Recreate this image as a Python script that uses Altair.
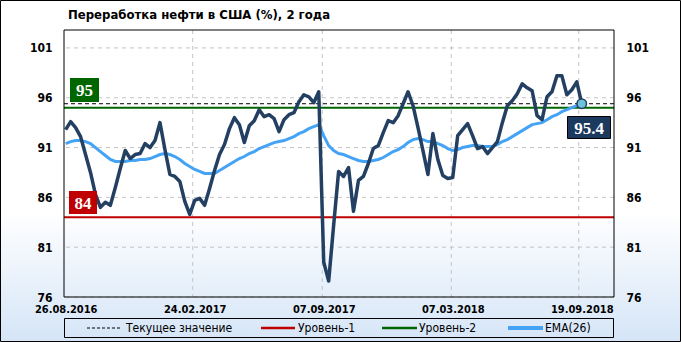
import altair as alt
import pandas as pd

title_text = "Переработка нефти в США (%), 2 года"
x_tick_index = [0, 26, 52, 78, 104]
x_tick_labels = ["26.08.2016", "24.02.2017", "07.09.2017", "07.03.2018", "19.09.2018"]
x_grid_index = [25.6, 51.7, 77.7, 103.4]
y_ticks = [76, 81, 86, 91, 96, 101]

values = [92.8, 93.6, 93.0, 92.1, 90.3, 88.5, 86.3, 85.0, 85.5, 85.2,
          87.0, 88.9, 90.7, 89.9, 90.3, 90.4, 91.4, 91.0, 91.7, 93.5,
          90.8, 88.3, 88.1, 87.6, 85.6, 84.3, 85.7, 85.9, 85.2, 86.9,
          88.7, 90.3, 91.3, 92.9, 94.0, 93.3, 91.5, 93.2, 93.7, 94.8,
          94.1, 94.3, 93.9, 92.6, 93.8, 94.3, 94.5, 95.6, 96.3, 96.1,
          95.5, 96.6, 79.5, 77.6, 83.2, 88.6, 88.1, 89.0, 84.6, 87.7,
          88.1, 89.4, 90.9, 91.2, 92.5, 93.7, 93.5, 94.2, 95.4, 96.6,
          95.2, 93.0, 90.7, 88.3, 92.4, 89.8, 88.2, 87.9, 88.0, 92.2,
          92.8, 93.4, 92.2, 90.9, 91.1, 90.4, 91.0, 91.6, 93.5, 95.2,
          95.7, 96.4, 97.4, 97.0, 96.7, 94.2, 93.8, 96.1, 96.6, 98.2,
          98.2, 96.3, 96.8, 97.6, 95.4]

ema = [91.4, 91.6, 91.7, 91.7, 91.6, 91.4, 91.0, 90.6, 90.2, 89.8,
       89.6, 89.6, 89.6, 89.7, 89.7, 89.8, 89.8, 89.9, 90.1, 90.3,
       90.4, 90.3, 90.1, 89.8, 89.4, 89.1, 88.8, 88.6, 88.4, 88.4,
       88.4, 88.7, 89.0, 89.3, 89.6, 89.9, 90.1, 90.4, 90.6, 90.9,
       91.1, 91.3, 91.5, 91.6, 91.7, 91.9, 92.1, 92.4, 92.6, 92.9,
       93.1, 93.3, 92.2, 91.2, 90.7, 90.4, 90.3, 90.1, 89.9, 89.7,
       89.6, 89.6, 89.7, 89.8, 90.0, 90.3, 90.6, 90.8, 91.1, 91.5,
       91.8, 91.9, 91.8, 91.6, 91.6, 91.4, 91.2, 90.9, 90.7, 90.8,
       91.0, 91.1, 91.2, 91.2, 91.1, 91.1, 91.1, 91.3, 91.6, 91.8,
       92.1, 92.4, 92.7, 93.0, 93.3, 93.4, 93.5, 93.8, 94.1, 94.3,
       94.6, 94.8, 95.0, 95.2, 95.4]

level1 = 84
level2 = 95
current = values[-1]

legend_labels = ["Текущее значение", "Уровень-1", "Уровень-2", "EMA(26)"]

W, H = 550, 267
FONT = "DejaVu Sans Condensed"
SERIF = "Liberation Serif"
NAVY = "#233f62"
BLUE = "#45a3f5"
RED = "#c00000"
GREEN = "#006600"
GRID = "#c4c4c4"

xscale = alt.Scale(domain=[-0.34, 110.5], nice=False, zero=False)
yscale = alt.Scale(domain=[76, 102.8], nice=False, zero=False)

df = pd.DataFrame({"i": list(range(len(values))), "v": values, "ema": ema})
one = pd.DataFrame({"a": [0]})

label_map = "{" + ",".join(f"'{k}':'{l}'" for k, l in zip(x_tick_index, x_tick_labels)) + "}"

x_axis = alt.Axis(values=x_tick_index, labelExpr=f"{label_map}[datum.value]",
                  domain=False, ticks=False, grid=False, labelFont=FONT,
                  labelFontSize=11, labelFontWeight="bold", labelColor="black",
                  labelPadding=6, labelFlush=False, labelOverlap=False,
                  labelBound=False, title=None, zindex=2)

axis_common = dict(domain=False, ticks=False, grid=False, labelFont=FONT,
                   labelFontSize=12, labelFontWeight="bold", labelColor="black",
                   labelPadding=12, title=None, values=y_ticks, zindex=2)

# background gradient over the whole canvas with outer frame
bg = alt.Chart(one).mark_rect(
    fill=alt.Gradient(gradient="linear", x1=0, x2=0, y1=0, y2=1,
                      stops=[alt.GradientStop(offset=0, color="white"),
                             alt.GradientStop(offset=0.62, color="white"),
                             alt.GradientStop(offset=1, color="#d5e5f7")]),
    stroke="black", strokeWidth=1
).encode(x=alt.value(-63.5), x2=alt.value(616.5), y=alt.value(-29.5), y2=alt.value(311.5))

title_mark = alt.Chart(one).mark_text(font=FONT, fontSize=13, fontWeight="bold",
                                      color="black", align="left", baseline="alphabetic").encode(
    x=alt.value(4), y=alt.value(-11), text=alt.value(title_text))

ygrid = alt.Chart(pd.DataFrame({"v": y_ticks})).mark_rule(
    color=GRID, strokeDash=[4, 4], strokeWidth=1
).encode(y=alt.Y("v:Q", scale=yscale, axis=None))

xgrid = alt.Chart(pd.DataFrame({"i": x_grid_index})).mark_rule(
    color=GRID, strokeDash=[4, 4], strokeWidth=1
).encode(x=alt.X("i:Q", scale=xscale, axis=x_axis))

lv = pd.DataFrame({"v": [level1, level2, current],
                   "k": ["l1", "l2", "cur"]})
red_line = alt.Chart(lv[lv.k == "l1"]).mark_rule(color=RED, strokeWidth=2).encode(
    y=alt.Y("v:Q", scale=yscale, axis=None))
green_line = alt.Chart(lv[lv.k == "l2"]).mark_rule(color=GREEN, strokeWidth=2).encode(
    y=alt.Y("v:Q", scale=yscale, axis=None))
cur_line = alt.Chart(lv[lv.k == "cur"]).mark_rule(color="black", strokeWidth=1,
                                                  strokeDash=[4, 3]).encode(
    y=alt.Y("v:Q", scale=yscale, axis=None))

ema_line = alt.Chart(df).mark_line(color=BLUE, strokeWidth=3).encode(
    x=alt.X("i:Q", scale=xscale, axis=x_axis),
    y=alt.Y("ema:Q", scale=yscale, axis=None))

main_line = alt.Chart(df).mark_line(color=NAVY, strokeWidth=3.5, strokeJoin="round").encode(
    x=alt.X("i:Q", scale=xscale, axis=x_axis),
    y=alt.Y("v:Q", scale=yscale, axis=alt.Axis(orient="left", **axis_common)))

right_axis = alt.Chart(pd.DataFrame({"v": y_ticks})).mark_rule(opacity=0).encode(
    y=alt.Y("v:Q", scale=yscale, axis=alt.Axis(orient="right", labelAlign="left", **axis_common)))

last = df.tail(1)
end_pt = alt.Chart(last).mark_point(filled=True, fill="#6ec3dc", stroke=NAVY,
                                    strokeWidth=1.5, size=90, opacity=1).encode(
    x=alt.X("i:Q", scale=xscale, axis=x_axis),
    y=alt.Y("v:Q", scale=yscale, axis=None))

def box(x1, x2, y1, y2, fill, txt, tx, ty, stroke=None):
    kw = dict(fill=fill)
    if stroke:
        kw.update(stroke=stroke, strokeWidth=1)
    r = alt.Chart(one).mark_rect(**kw).encode(
        x=alt.value(x1), x2=alt.value(x2), y=alt.value(y1), y2=alt.value(y2))
    t = alt.Chart(one).mark_text(font=SERIF, fontSize=17, fontWeight="bold",
                                 color="white", align="center", baseline="middle").encode(
        x=alt.value(tx), y=alt.value(ty), text=alt.value(txt))
    return r + t

box95 = box(6, 35, 48, 72, GREEN, f"{level2}", 20.5, 61)
box84 = box(5, 33, 161, 184, RED, f"{level1}", 19, 173.5)
box_cur = box(503.5, 546.5, 86.5, 108.5, "#1b3a5e", f"{current}", 525, 98.5, stroke="black")

frame = alt.Chart(one).mark_rect(fill=None, stroke="black", strokeWidth=1).encode(
    x=alt.value(0), x2=alt.value(W), y=alt.value(0), y2=alt.value(H))

# legend
leg_box = alt.Chart(one).mark_rect(fill=None, stroke="black", strokeWidth=1).encode(
    x=alt.value(0.5), x2=alt.value(W - 0.5), y=alt.value(288.5), y2=alt.value(307.5))
leg_specs = [
    (legend_labels[0], "black", [3, 2], 1, 23, 58, 62),
    (legend_labels[1], RED, [1, 0], 2.5, 197, 231, 234),
    (legend_labels[2], GREEN, [1, 0], 2.5, 318, 353, 355),
    (legend_labels[3], BLUE, [1, 0], 4, 444, 479, 481),
]
leg_layers = [leg_box]
for lab, col, dash, sw, s1, s2, tx in leg_specs:
    leg_layers.append(alt.Chart(one).mark_rule(color=col, strokeWidth=sw, strokeDash=dash).encode(
        x=alt.value(s1), x2=alt.value(s2), y=alt.value(298)))
    leg_layers.append(alt.Chart(one).mark_text(font=FONT, fontSize=12, color="black",
                                               align="left", baseline="middle").encode(
        x=alt.value(tx), y=alt.value(298), text=alt.value(lab)))

chart = alt.layer(
    bg, title_mark, ygrid, xgrid, red_line, green_line, cur_line, ema_line, main_line, right_axis,
    end_pt, box95, box84, box_cur, frame, *leg_layers
).resolve_scale(y="independent").properties(
    width=W, height=H,
    autosize=alt.AutoSizeParams(type="none"),
    padding={"left": 64, "top": 30, "right": 67, "bottom": 45},
).configure_view(stroke=None).configure(background="white")

chart.save("out.html", embed_options={"renderer": "svg", "actions": False})
